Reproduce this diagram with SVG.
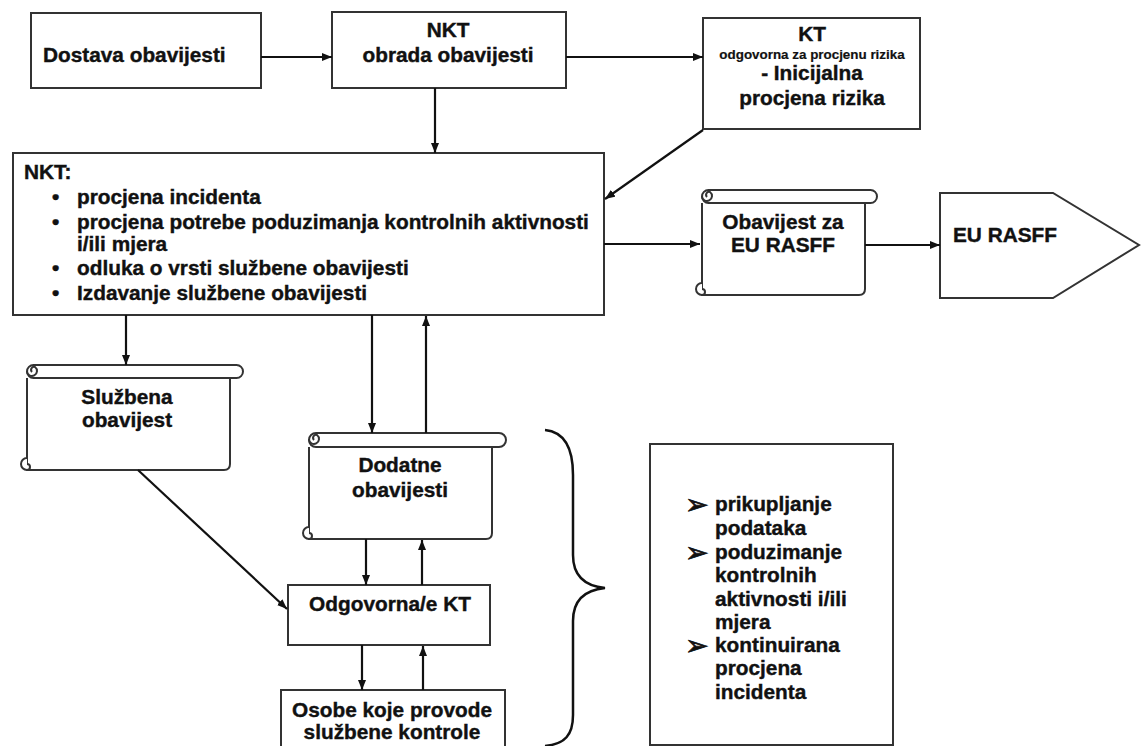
<svg xmlns="http://www.w3.org/2000/svg" width="1141" height="746" viewBox="0 0 1141 746">
<defs>
<style>
.box{fill:#fff;stroke:#333;stroke-width:2}
.scr{fill:#fff;stroke:#333;stroke-width:2;stroke-linejoin:round}
.t{font-family:"Liberation Sans",Arial,sans-serif;font-weight:bold;font-size:20.8px;fill:#111;stroke:#111;stroke-width:0.4}
.c{text-anchor:middle}
.s{font-size:13.4px;stroke-width:0.2}
.con{stroke:#111;stroke-width:2.2;fill:none;marker-end:url(#ah)}
.br{stroke:#111;stroke-width:2.5;fill:none}
.bul{font-family:"DejaVu Sans",sans-serif;font-size:28px;fill:#111;stroke:#111;stroke-width:0.8}
</style>
<marker id="ah" markerUnits="userSpaceOnUse" markerWidth="10" markerHeight="8" refX="10" refY="4" orient="auto">
<path d="M0,0 L10,4 L0,8 Z" fill="#111"/>
</marker>
</defs>
<rect width="1141" height="746" fill="#fff"/>

<g id="dostava">
<rect class="box" x="31" y="13" width="230" height="75"/>
<text class="t" x="43" y="62">Dostava obavijesti</text>
</g>

<g id="nkt-obrada">
<rect class="box" x="332" y="12" width="234" height="76"/>
<text class="t c" x="448" y="37">NKT</text>
<text class="t c" x="448" y="62">obrada obavijesti</text>
</g>

<g id="kt-procjena">
<rect class="box" x="703" y="18" width="217" height="111"/>
<text class="t c" x="812" y="41">KT</text>
<text class="t c s" x="812" y="59">odgovorna za procjenu rizika</text>
<text class="t c" x="812" y="80">- Inicijalna</text>
<text class="t c" x="812" y="105">procjena rizika</text>
</g>

<g id="nkt-glavni">
<rect class="box" x="13" y="153" width="591" height="162"/>
<text class="t" x="24" y="179">NKT:</text>
<text class="t" x="52" y="204">•</text>
<text class="t" x="77" y="204">procjena incidenta</text>
<text class="t" x="52" y="229">•</text>
<text class="t" x="77" y="229">procjena potrebe poduzimanja kontrolnih aktivnosti</text>
<text class="t" x="77" y="251">i/ili mjera</text>
<text class="t" x="52" y="275">•</text>
<text class="t" x="77" y="275">odluka o vrsti službene obavijesti</text>
<text class="t" x="52" y="300">•</text>
<text class="t" x="77" y="300">Izdavanje službene obavijesti</text>
</g>

<g id="obavijest-eu">
<path class="scr" d="M702,203 V295 H859 Q865,295 865,289 V203"/>
<rect class="scr" x="702" y="190" width="175" height="13" rx="6.5"/>
<path class="scr" d="M702,196 a5,5 0 1 0 8,-4 a3,3 0 0 0 -3,5"/>
<path class="scr" d="M702,283 a6,6 0 1 0 0,12 a3,3 0 0 0 0,-6"/>
<text class="t c" x="783" y="229">Obavijest za</text>
<text class="t c" x="783" y="252">EU RASFF</text>
</g>

<g id="eu-rasff">
<path class="box" d="M940,193 L1053,193 L1139,245 L1053,298 L940,298 Z"/>
<text class="t" x="953" y="242">EU RASFF</text>
</g>

<g id="sluzbena">
<path class="scr" d="M27,378 V470 H224 Q230,470 230,464 V378"/>
<rect class="scr" x="27" y="365" width="216" height="13" rx="6.5"/>
<path class="scr" d="M27,371 a5,5 0 1 0 8,-4 a3,3 0 0 0 -3,5"/>
<path class="scr" d="M27,458 a6,6 0 1 0 0,12 a3,3 0 0 0 0,-6"/>
<text class="t c" x="127" y="404">Službena</text>
<text class="t c" x="127" y="427">obavijest</text>
</g>

<g id="dodatne">
<path class="scr" d="M309,447 V539 H486 Q492,539 492,533 V447"/>
<rect class="scr" x="309" y="433" width="197" height="14" rx="7"/>
<path class="scr" d="M309,439 a5,5 0 1 0 8,-4 a3,3 0 0 0 -3,5"/>
<path class="scr" d="M309,527 a6,6 0 1 0 0,12 a3,3 0 0 0 0,-6"/>
<text class="t c" x="400" y="472">Dodatne</text>
<text class="t c" x="400" y="497">obavijesti</text>
</g>

<g id="odgovorna-kt">
<rect class="box" x="288" y="585" width="202" height="60"/>
<text class="t c" x="390" y="611">Odgovorna/e KT</text>
</g>

<g id="osobe">
<rect class="box" x="281" y="690" width="224" height="60"/>
<text class="t c" x="392" y="717">Osobe koje provode</text>
<text class="t c" x="392" y="739">službene kontrole</text>
</g>

<g id="aktivnosti">
<rect class="box" x="650" y="444" width="243" height="301"/>
<text class="bul" x="685" y="514">➢</text>
<text class="t" x="715" y="511">prikupljanje</text>
<text class="t" x="715" y="535">podataka</text>
<text class="bul" x="685" y="562">➢</text>
<text class="t" x="715" y="559">poduzimanje</text>
<text class="t" x="715" y="582">kontrolnih</text>
<text class="t" x="715" y="606">aktivnosti i/ili</text>
<text class="t" x="715" y="629">mjera</text>
<text class="bul" x="685" y="655">➢</text>
<text class="t" x="715" y="652">kontinuirana</text>
<text class="t" x="715" y="675">procjena</text>
<text class="t" x="715" y="699">incidenta</text>
</g>

<g id="zagrada">
<path class="br" d="M545,430 C565,432 573,448 573,475 L573,555 C573,576 585,586 605,588 C585,590 573,600 573,621 L573,715 C573,735 565,744 545,746"/>
</g>

<g id="connectors">
<line class="con" x1="261" y1="57" x2="332" y2="57"/>
<line class="con" x1="566" y1="57" x2="703" y2="57"/>
<line class="con" x1="435" y1="88" x2="435" y2="153"/>
<line class="con" x1="703" y1="130" x2="605" y2="199"/>
<line class="con" x1="604" y1="244" x2="700" y2="244"/>
<line class="con" x1="865" y1="245" x2="940" y2="245"/>
<line class="con" x1="126" y1="315" x2="126" y2="365"/>
<line class="con" x1="372" y1="315" x2="372" y2="433"/>
<line class="con" x1="426" y1="433" x2="426" y2="316"/>
<line class="con" x1="138" y1="470" x2="287" y2="609"/>
<line class="con" x1="366" y1="539" x2="366" y2="585"/>
<line class="con" x1="422" y1="585" x2="422" y2="540"/>
<line class="con" x1="362" y1="645" x2="362" y2="690"/>
<line class="con" x1="423" y1="690" x2="423" y2="646"/>
</g>
</svg>
